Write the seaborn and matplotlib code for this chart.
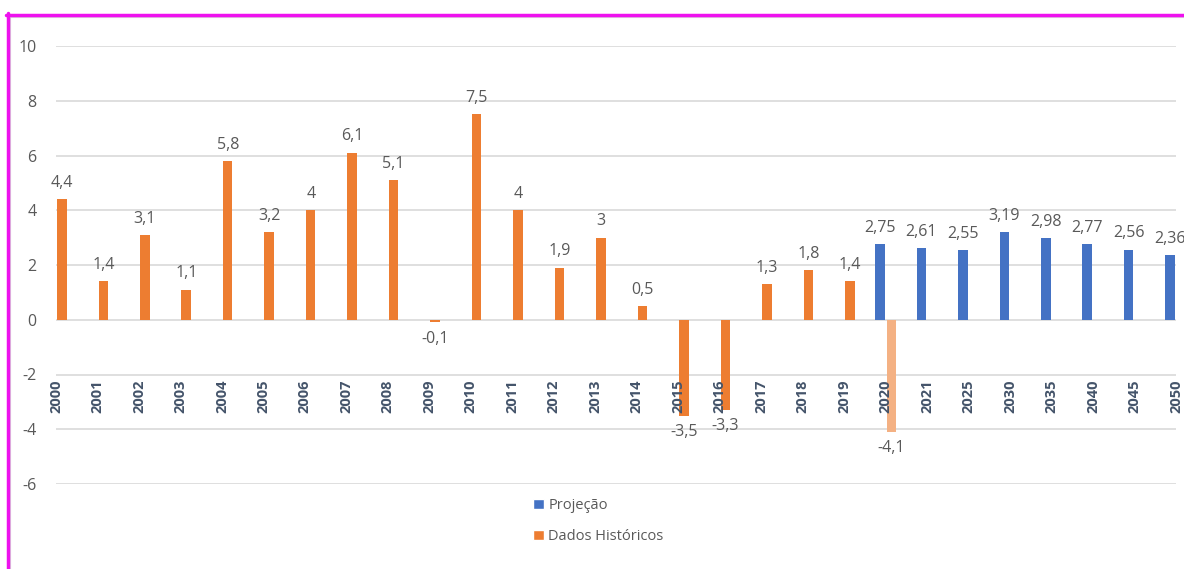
import pandas as pd
import numpy as np
import seaborn as sns
import matplotlib.pyplot as plt
from matplotlib.patches import Patch
from matplotlib.lines import Line2D

# chart values
years = ['2000', '2001', '2002', '2003', '2004', '2005', '2006', '2007', '2008', '2009',
         '2010', '2011', '2012', '2013', '2014', '2015', '2016', '2017', '2018', '2019',
         '2020', '2021', '2025', '2030', '2035', '2040', '2045', '2050']
hist_years = years[:21]
hist_values = [4.4, 1.4, 3.1, 1.1, 5.8, 3.2, 4, 6.1, 5.1, -0.1,
               7.5, 4, 1.9, 3, 0.5, -3.5, -3.3, 1.3, 1.8, 1.4, -4.1]
proj_years = ['2020', '2021', '2025', '2030', '2035', '2040', '2045', '2050']
proj_values = [2.75, 2.61, 2.55, 3.19, 2.98, 2.77, 2.56, 2.36]
series = ['Projeção', 'Dados Históricos']
yticks = [-6, -4, -2, 0, 2, 4, 6, 8, 10]

blue = '#4472C4'
orange = '#ED7D31'
light_orange = '#F4B183'
grey_txt = '#595959'
axis_txt = '#44546A'

df = pd.concat([
    pd.DataFrame({'ano': proj_years, 'valor': proj_values, 'serie': series[0]}),
    pd.DataFrame({'ano': hist_years, 'valor': hist_values, 'serie': series[1]}),
], ignore_index=True)

sns.set_theme(style='white')
plt.rcParams['font.family'] = ['Open Sans', 'DejaVu Sans']

fig = plt.figure(figsize=(11.84, 5.69), dpi=100)
ax = fig.add_axes([56 / 1184, 85 / 569, 1120 / 1184, 438 / 569])

sns.barplot(data=df, x='ano', y='valor', hue='serie', order=years, hue_order=series,
            palette=[blue, orange], width=0.56, gap=0.18, ax=ax, legend=False,
            errorbar=None, linewidth=0, saturation=1)

# 2020 historical bar is drawn lighter
for p in ax.patches:
    if abs(p.get_height() + 4.1) < 1e-6:
        p.set_facecolor(light_orange)

for c in ax.containers:
    ax.bar_label(c, fmt=lambda v: f"{v:g}".replace('.', ','), padding=6,
                 color=grey_txt, fontsize=11.5, clip_on=False)

ax.set_xlim(0, len(years) - 1)
ax.set_ylim(-6, 10)
ax.set_yticks(yticks)
ax.set_yticklabels([str(t) for t in yticks], color=grey_txt, fontsize=11.5)
ax.tick_params(axis='y', length=0, pad=14)
ax.set_xticks([])
ax.set_xlabel('')
ax.set_ylabel('')
ax.grid(axis='y', color='#D9D9D9', linewidth=1.2)
ax.set_axisbelow(True)
for s in ax.spines.values():
    s.set_visible(False)

# category labels sit under the -2 gridline
for i, yr in enumerate(years):
    ax.text(i, -2.2, yr, rotation=90, ha='center', va='top', fontsize=10.5,
            fontweight='bold', color=axis_txt, clip_on=False)

handles = [Patch(facecolor=blue), Patch(facecolor=orange)]
fig.legend(handles, series, loc='center left', bbox_to_anchor=(533 / 1184, 1 - 521 / 569),
           frameon=False, fontsize=10.5, labelcolor=grey_txt, handlelength=0.75,
           handleheight=0.75, handletextpad=0.3, labelspacing=1.1,
           borderpad=0, borderaxespad=0)

# outer frame
fig.add_artist(Line2D([10 / 1184, 10 / 1184], [0, 1 - 17 / 569], color='#D9D9D9', lw=0.8))
fig.add_artist(Line2D([10 / 1184, 1], [1 - 17 / 569, 1 - 17 / 569], color='#D9D9D9', lw=0.8))
fig.add_artist(Line2D([7.5 / 1184, 7.5 / 1184], [0, 1 - 13 / 569], color='#EE11EE', lw=2.5))
fig.add_artist(Line2D([6 / 1184, 1], [1 - 15 / 569, 1 - 15 / 569], color='#EE11EE', lw=2.5))

fig.savefig('out.png', dpi=100)
